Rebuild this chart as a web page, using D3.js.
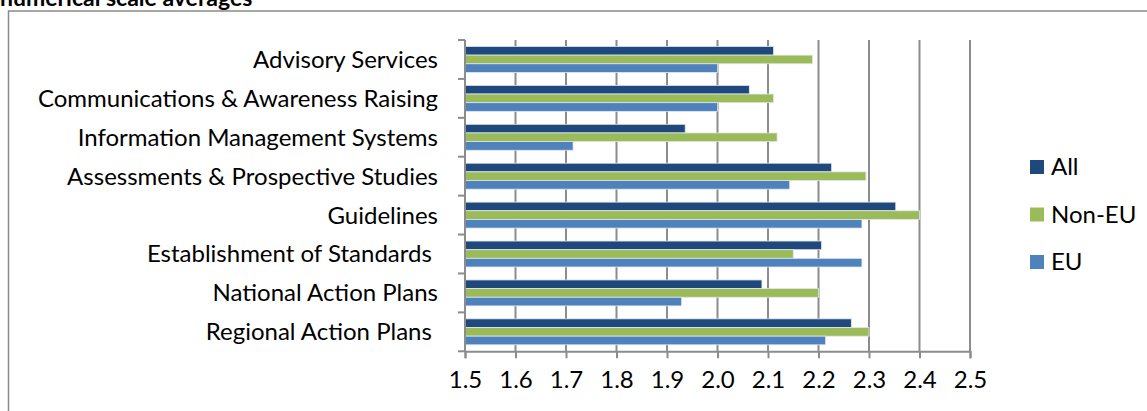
<!DOCTYPE html>
<html>
<head>
<meta charset="utf-8">
<script src="https://cdn.jsdelivr.net/npm/d3@7/dist/d3.min.js"></script>
<style>
  html, body { margin: 0; padding: 0; background: #fff; }
  svg { display: block; }
  text { font-family: Lato, "Open Sans", sans-serif; fill: #000; }
</style>
</head>
<body>
<svg id="chart" width="1147" height="411"></svg>
<script>
const categories = [
  "Advisory Services",
  "Communications & Awareness Raising",
  "Information Management Systems",
  "Assessments & Prospective Studies",
  "Guidelines",
  "Establishment of Standards ",
  "National Action Plans",
  "Regional Action Plans "
];
const seriesNames = ["All", "Non-EU", "EU"];
const allValues   = [2.111, 2.063, 1.936, 2.226, 2.353, 2.206, 2.088, 2.265];
const nonEuValues = [2.188, 2.111, 2.118, 2.294, 2.400, 2.150, 2.200, 2.300];
const euValues    = [2.000, 2.000, 1.714, 2.143, 2.286, 2.286, 1.929, 2.214];
const xTicks = [1.5, 1.6, 1.7, 1.8, 1.9, 2.0, 2.1, 2.2, 2.3, 2.4, 2.5];
const title = "numerical scale averages";

(function () {
const colors = {"All": "#1F497D", "Non-EU": "#9BBB59", "EU": "#4F81BD"};
const seriesValues = {"All": allValues, "Non-EU": nonEuValues, "EU": euValues};

const svg = d3.select("#chart");

svg.append("text").attr("x", 0).attr("y", 6)
  .style("font-weight", "bold").style("font-size", "23px").text(title);

svg.append("rect").attr("x", 8.5).attr("y", 11).attr("width", 1200).attr("height", 500)
  .attr("fill", "none").attr("stroke", "#8a8a8a").attr("stroke-width", 1.5);

const pLeft = 465, pRight = 970, pTop = 40, pBottom = 351.3;
const x = d3.scaleLinear().domain([1.5, 2.5]).range([pLeft, pRight]);
const y = d3.scaleBand().domain(categories).range([pTop, pBottom]).paddingInner(0.333).paddingOuter(0.1667);
const yStep = y.step();
const ySub = d3.scaleBand().domain(seriesNames).range([0, y.bandwidth()]);

svg.append("g").selectAll("line").data(xTicks.slice(1)).join("line")
  .attr("x1", d => x(d)).attr("x2", d => x(d))
  .attr("y1", pTop).attr("y2", pBottom)
  .attr("stroke", "#8c8c8c").attr("stroke-width", 2);

const groups = svg.append("g").selectAll("g").data(categories).join("g")
  .attr("transform", d => `translate(0,${y(d)})`);
groups.selectAll("rect").data((c, i) => seriesNames.map(s => ({s, v: seriesValues[s][i]})))
  .join("rect")
  .attr("x", x(1.5))
  .attr("y", d => ySub(d.s))
  .attr("width", d => x(d.v) - x(1.5))
  .attr("height", ySub.bandwidth())
  .attr("fill", d => colors[d.s])
  .attr("stroke", "#dfe6ef").attr("stroke-width", 0.8);

const yAxis = svg.append("g").attr("transform", `translate(${pLeft},0)`);
yAxis.append("line").attr("x1", 0).attr("x2", 0).attr("y1", pTop).attr("y2", pBottom)
  .attr("stroke", "#8c8c8c").attr("stroke-width", 2);
const yTickPos = d3.range(categories.length + 1).map(i => pTop + i * yStep);
yAxis.selectAll("line.t").data(yTickPos).join("line").attr("class", "t")
  .attr("x1", -7).attr("x2", 0).attr("y1", d => d).attr("y2", d => d)
  .attr("stroke", "#8c8c8c").attr("stroke-width", 2);
yAxis.selectAll("text").data(categories).join("text")
  .attr("x", -27).attr("y", d => y(d) + y.bandwidth() / 2)
  .attr("dy", "0.35em").attr("text-anchor", "end")
  .style("font-size", "24px").style("white-space", "pre")
  .text(d => d);

const xAxisG = svg.append("g").attr("transform", `translate(0,${pBottom})`)
  .call(d3.axisBottom(x).tickValues(xTicks).tickSize(7).tickPadding(13).tickFormat(d3.format(".1f")));
xAxisG.select(".domain").attr("stroke", "#8c8c8c").attr("stroke-width", 2);
xAxisG.selectAll(".tick line").attr("stroke", "#8c8c8c").attr("stroke-width", 2);
xAxisG.selectAll(".tick text").style("font-size", "24px").style("font-family", "Lato, sans-serif").attr("fill", "#000");

const legend = svg.append("g").attr("transform", "translate(1030,160)");
const li = legend.selectAll("g").data(seriesNames).join("g")
  .attr("transform", (d, i) => `translate(0,${i * 47.5})`);
li.append("rect").attr("width", 14).attr("height", 14).attr("fill", d => colors[d]);
li.append("text").attr("x", 21).attr("y", 7).attr("dy", "0.35em")
  .style("font-size", "24px").text(d => d);
})();
</script>
</body>
</html>
